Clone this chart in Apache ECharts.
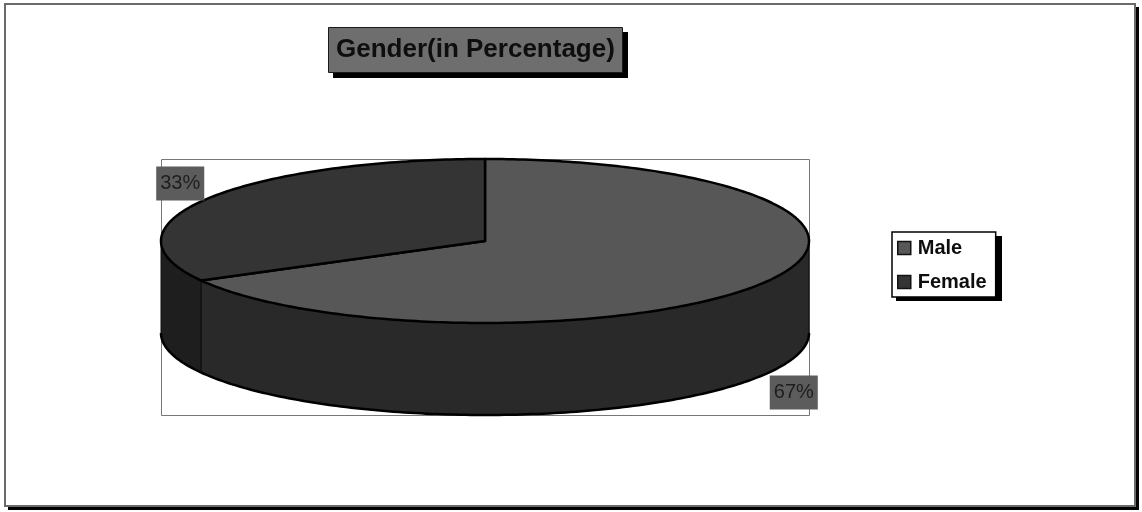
<!DOCTYPE html>
<html>
<head>
<meta charset="utf-8">
<script src="https://cdn.jsdelivr.net/npm/echarts@6/dist/echarts.min.js"></script>
<style>
  html, body { margin: 0; padding: 0; background: #fff; }
  #chart { width: 1142px; height: 512px; }
</style>
</head>
<body>
<div id="chart"></div>
<script>
// Survey respondents by gender (percent)
const categories = ['Male', 'Female'];
const shares = [67, 33];

// Slice fills: top face and the darker rim
const topColors = ['#575757', '#343434'];
const sideColors = ['#292929', '#1e1e1e'];

// Tilted pie geometry (pixels)
const PIE = { cx: 485, cy: 241, rx: 324, ry: 82, depth: 92 };
const FONT = "'Liberation Sans', Arial, sans-serif";

const total = shares.reduce((a, b) => a + b, 0);

// Angle measured clockwise from 12 o'clock
function ellipsePt(theta, dy) {
  return [PIE.cx + PIE.rx * Math.sin(theta), PIE.cy - PIE.ry * Math.cos(theta) + dy];
}
function arcPts(a, b, dy) {
  const pts = [];
  const n = Math.max(2, Math.ceil(Math.abs(b - a) / (Math.PI / 180)));
  for (let k = 0; k <= n; k++) pts.push(ellipsePt(a + (b - a) * k / n, dy));
  return pts;
}

function renderSlice(params, api) {
  const i = params.seriesIndex;
  const value = api.value(0);
  const before = shares.slice(0, i).reduce((a, b) => a + b, 0);
  const start = before / total * Math.PI * 2;
  const end = (before + value) / total * Math.PI * 2;
  const children = [];

  // Front rim (only the half facing the viewer is visible)
  const a = Math.max(start, Math.PI / 2);
  const b = Math.min(end, Math.PI * 1.5);
  if (a < b) {
    const top = arcPts(a, b, 0);
    const bottom = arcPts(b, a, PIE.depth);
    children.push({
      type: 'polygon',
      shape: { points: top.concat(bottom) },
      style: { fill: sideColors[i], stroke: '#0d0d0d', lineWidth: 1, lineJoin: 'round' }
    });
    // heavier outline along the lower rim edge
    children.push({
      type: 'polyline',
      shape: { points: bottom },
      style: { fill: null, stroke: '#000', lineWidth: 2.5, lineJoin: 'round' }
    });
  }

  // Top face
  children.push({
    type: 'polygon',
    shape: { points: [[PIE.cx, PIE.cy]].concat(arcPts(start, end, 0)) },
    style: { fill: topColors[i], stroke: '#000', lineWidth: 2.5, lineJoin: 'round' }
  });

  // Percentage label placed outside the rim at the slice's middle angle
  const mid = (start + end) / 2;
  const lx = PIE.cx + PIE.rx * 1.1 * Math.sin(mid);
  const ly = PIE.cy - PIE.ry * 1.4 * Math.cos(mid) + (Math.cos(mid) < 0 ? PIE.depth : 0);
  children.push({
    type: 'text',
    x: lx + 2, y: ly + 1,
    z2: 10,
    style: {
      text: value + '%',
      font: '20px ' + FONT,
      fill: '#1e1e1e',
      align: 'center',
      verticalAlign: 'middle',
      backgroundColor: '#5c5c5c',
      padding: [8, 4, 6, 4]
    }
  });

  return { type: 'group', children };
}

const chart = echarts.init(document.getElementById('chart'), null, { renderer: 'canvas' });

chart.setOption({
  animation: false,
  backgroundColor: '#ffffff',
  title: {
    text: 'Gender(in Percentage)',
    left: 328,
    top: 27,
    padding: [9, 8, 9, 8],
    backgroundColor: '#6e6e6e',
    borderColor: '#1a1a1a',
    borderWidth: 1,
    textStyle: { fontFamily: FONT, fontSize: 26, fontWeight: 'bold', color: '#0e0e0e', lineHeight: 28 },
    z: 5
  },
  legend: {
    data: categories,
    orient: 'vertical',
    left: 892,
    top: 232,
    padding: [6, 9, 5, 5],
    itemGap: 14,
    itemWidth: 13,
    itemHeight: 13,
    icon: 'rect',
    backgroundColor: '#ffffff',
    borderColor: '#000',
    borderWidth: 1.5,
    itemStyle: { borderColor: '#111', borderWidth: 1.5 },
    textStyle: { fontFamily: FONT, fontSize: 20, fontWeight: 'bold', color: '#0e0e0e', padding: [0, 0, 0, 2] },
    selectedMode: false,
    z: 5
  },
  graphic: [
    // outer frame with drop shadow on the right and bottom
    { type: 'rect', z: 0, silent: true, shape: { x: 8, y: 7, width: 1131, height: 503 }, style: { fill: '#000' } },
    { type: 'rect', z: 0, silent: true, shape: { x: 5, y: 4, width: 1130, height: 502 }, style: { fill: '#fff', stroke: '#6a6a6a', lineWidth: 2 } },
    // plot area outline
    { type: 'rect', z: 1, silent: true, shape: { x: 161.5, y: 159.5, width: 648, height: 256 }, style: { fill: 'none', stroke: '#777', lineWidth: 1 } },
    // title and legend shadows
    { type: 'rect', z: 1, silent: true, shape: { x: 333, y: 32, width: 295, height: 46 }, style: { fill: '#000' } },
    { type: 'rect', z: 1, silent: true, shape: { x: 896, y: 236, width: 106, height: 65 }, style: { fill: '#000' } }
  ],
  series: categories.map((name, i) => ({
    type: 'custom',
    name,
    coordinateSystem: 'none',
    renderItem: renderSlice,
    data: [[shares[i]]],
    itemStyle: { color: topColors[i] },
    silent: true,
    z: 3
  }))
});
</script>
</body>
</html>
